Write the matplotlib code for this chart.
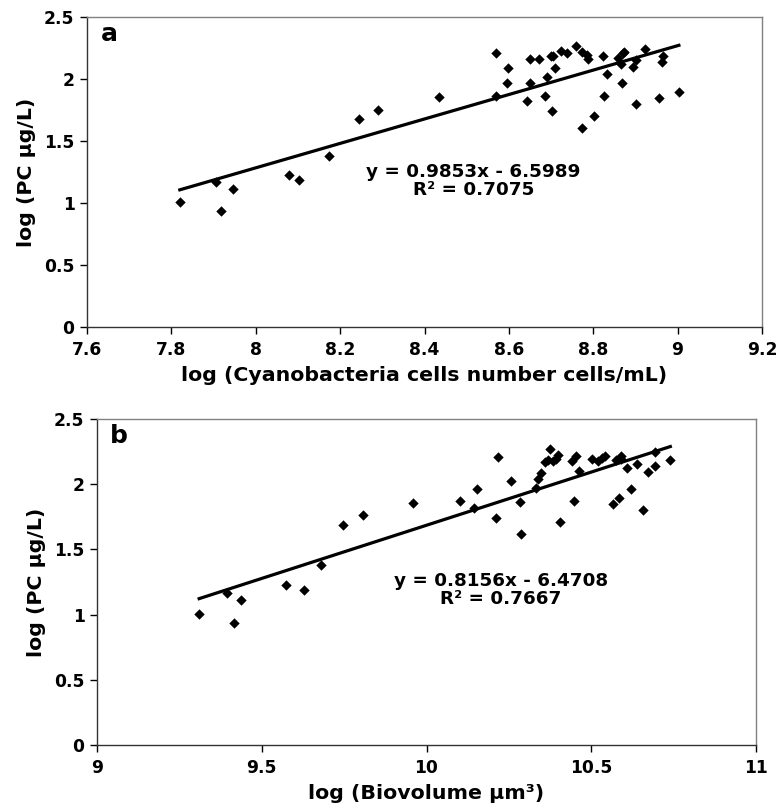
import matplotlib
matplotlib.use("Agg")
import matplotlib.pyplot as plt
import numpy as np

plt.rcParams['font.family'] = ['DejaVu Sans']
plt.rcParams['font.weight'] = 'bold'

# Panel a: log cell number vs log PC
a_x = [7.820, 7.905, 7.917, 7.945, 8.079, 8.102, 8.174, 8.244, 8.290, 8.434,
       8.569, 8.569, 8.597, 8.595, 8.643, 8.649, 8.651, 8.672, 8.686, 8.691,
       8.699, 8.703, 8.705, 8.709, 8.723, 8.738, 8.760, 8.773, 8.773, 8.786,
       8.788, 8.802, 8.823, 8.825, 8.833, 8.859, 8.866, 8.868, 8.870, 8.873,
       8.895, 8.901, 8.901, 8.922, 8.955, 8.963, 8.966, 9.003]
a_y = [1.005, 1.169, 0.938, 1.110, 1.228, 1.188, 1.378, 1.681, 1.753, 1.858,
       2.209, 1.866, 2.086, 1.970, 1.820, 2.164, 1.968, 2.164, 1.863, 2.016,
       2.182, 1.743, 2.182, 2.091, 2.225, 2.209, 2.263, 2.220, 1.606, 2.193,
       2.161, 1.705, 2.182, 1.863, 2.040, 2.166, 2.118, 1.965, 2.206, 2.217,
       2.094, 1.796, 2.153, 2.241, 1.845, 2.139, 2.188, 1.895]
a_slope, a_icpt = 0.9853, -6.5989
a_eq = ["y = 0.9853x - 6.5989", "R² = 0.7075"]

# Panel b: log biovolume vs log PC
b_x = [9.310, 9.395, 9.415, 9.436, 9.574, 9.629, 9.679, 9.746, 9.807, 9.958,
       10.102, 10.143, 10.154, 10.216, 10.212, 10.256, 10.284, 10.287, 10.331, 10.337,
       10.346, 10.360, 10.368, 10.376, 10.384, 10.394, 10.398, 10.406, 10.442, 10.448,
       10.454, 10.464, 10.502, 10.520, 10.534, 10.543, 10.565, 10.575, 10.583, 10.589,
       10.591, 10.608, 10.622, 10.638, 10.656, 10.672, 10.692, 10.694, 10.740]
b_y = [1.003, 1.167, 0.936, 1.113, 1.228, 1.192, 1.382, 1.685, 1.762, 1.859,
       1.872, 1.821, 1.967, 2.210, 1.741, 2.023, 1.867, 1.615, 1.974, 2.038,
       2.085, 2.167, 2.182, 2.269, 2.179, 2.192, 2.226, 1.710, 2.179, 1.869,
       2.213, 2.100, 2.192, 2.179, 2.200, 2.213, 1.851, 2.187, 1.897, 2.213,
       2.197, 2.123, 1.967, 2.154, 1.803, 2.095, 2.141, 2.244, 2.187]
b_slope, b_icpt = 0.8156, -6.4708
b_eq = ["y = 0.8156x - 6.4708", "R² = 0.7667"]

y_ticks = [0, 0.5, 1, 1.5, 2, 2.5]
y_ticklabels = ["0", "0.5", "1", "1.5", "2", "2.5"]
a_xticks = [7.6, 7.8, 8, 8.2, 8.4, 8.6, 8.8, 9, 9.2]
a_xticklabels = ["7.6", "7.8", "8", "8.2", "8.4", "8.6", "8.8", "9", "9.2"]
b_xticks = [9, 9.5, 10, 10.5, 11]
b_xticklabels = ["9", "9.5", "10", "10.5", "11"]

W, H = 778, 809
fig = plt.figure(figsize=(W / 100, H / 100), dpi=100)

def make_panel(rect, xs, ys, slope, icpt, eq, xticks, xtl, xlim, xlabel, letter, eqpos):
    ax = fig.add_axes(rect)
    ax.scatter(xs, ys, marker='D', s=28, color='black', linewidths=0, zorder=3)
    lx = np.array([min(xs), max(xs)])
    ax.plot(lx, slope * lx + icpt, color='black', lw=2.3, zorder=2)
    ax.set_xlim(*xlim)
    ax.set_ylim(0, 2.5)
    ax.set_xticks(xticks)
    ax.set_xticklabels(xtl)
    ax.set_yticks(y_ticks)
    ax.set_yticklabels(y_ticklabels)
    ax.tick_params(direction='out', length=5, width=1, labelsize=12.3)
    ax.tick_params(axis='x', pad=5)
    ax.tick_params(axis='y', pad=4)
    for lab in ax.get_xticklabels() + ax.get_yticklabels():
        lab.set_fontweight('bold')
    for s in ['top', 'right']:
        ax.spines[s].set_color('#808080')
        ax.spines[s].set_linewidth(1.0)
    for s in ['left', 'bottom']:
        ax.spines[s].set_color('#333333')
        ax.spines[s].set_linewidth(1.0)
    ax.set_xlabel(xlabel, fontsize=14.75, fontweight='bold', labelpad=5)
    ax.set_ylabel("log (PC μg/L)", fontsize=14.75, fontweight='bold', labelpad=6)
    ax.text(0.02, 0.985, letter, transform=ax.transAxes, fontsize=18,
            fontweight='bold', va='top', ha='left')
    ax.text(eqpos[0], eqpos[1], eq[0] + "\n" + eq[1], fontsize=13.2,
            fontweight='bold', ha='center', va='center', linespacing=1.0)
    return ax

make_panel([87 / W, 1 - 327 / H, (762 - 87) / W, (327 - 17) / H],
           a_x, a_y, a_slope, a_icpt, a_eq, a_xticks, a_xticklabels, (7.6, 9.2),
           "log (Cyanobacteria cells number cells/mL)", "a", (8.516, 1.18))
make_panel([97 / W, 1 - 745 / H, (756 - 97) / W, (745 - 419) / H],
           b_x, b_y, b_slope, b_icpt, b_eq, b_xticks, b_xticklabels, (9, 11),
           "log (Biovolume μm³)", "b", (10.226, 1.19))

fig.savefig("out.png", dpi=100)
